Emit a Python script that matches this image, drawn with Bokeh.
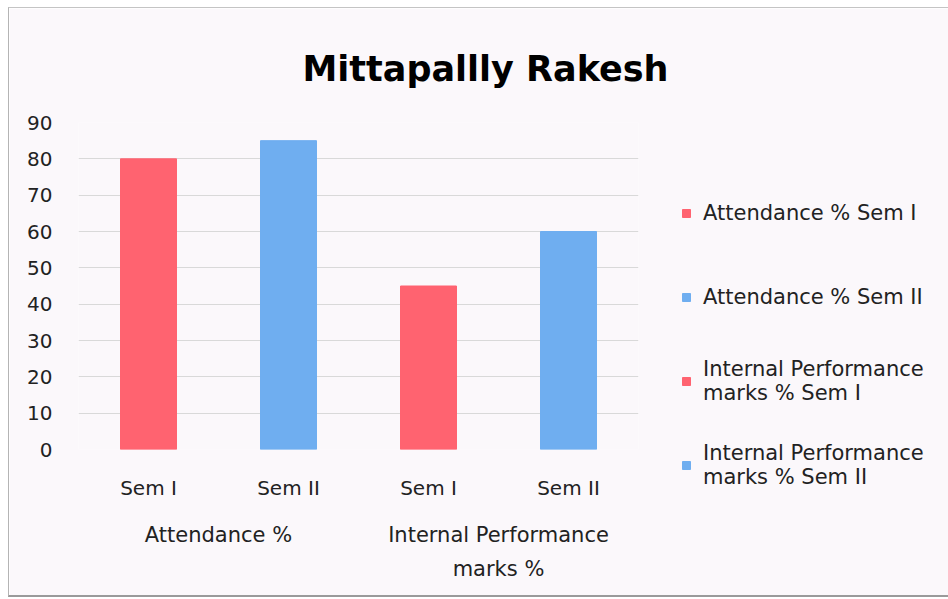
from bokeh.plotting import figure
from bokeh.models import (FactorRange, ColumnDataSource, Legend, LegendItem,
                          Range1d, FixedTicker, Title)
from bokeh.embed import file_html
from bokeh.resources import INLINE

# ---- data ----
title_text = "Mittapallly Rakesh"
groups = ["Attendance %", "Internal Performance\nmarks %"]
semesters = ["Sem I", "Sem II"]
series_labels = ["Attendance % Sem I", "Attendance % Sem II",
                 "Internal Performance\nmarks % Sem I", "Internal Performance\nmarks % Sem II"]
values = [80, 85, 45, 60]
colors = ["#ff6370", "#6faef0", "#ff6370", "#6faef0"]
y_ticks = [0, 10, 20, 30, 40, 50, 60, 70, 80, 90]

factors = [(g, s) for g in groups for s in semesters]

FONT = "DejaVu Sans"
BG = "#fbf8fb"
TXT = "#222222"

p = figure(frame_width=560, frame_height=327, output_backend="svg", toolbar_location=None,
           x_range=FactorRange(*factors, range_padding=0, group_padding=0, factor_padding=0),
           y_range=Range1d(0, 90),
           min_border_left=69, min_border_right=307, min_border_top=114, min_border_bottom=146)

p.background_fill_color = BG
p.border_fill_color = BG
p.outline_line_color = None

p.title = Title(text=title_text, align="left", text_font=FONT,
                text_font_size="35px", text_font_style="bold", text_color="#000000",
                standoff=68, offset=224)

renderers = []
for f, v, c in zip(factors, values, colors):
    src = ColumnDataSource(dict(x=[f], top=[v]))
    r = p.vbar(x="x", top="top", width=0.4, source=src, fill_color=c,
               line_color=c, line_width=1)
    renderers.append(r)

# axes
p.yaxis.ticker = FixedTicker(ticks=y_ticks)
p.yaxis.axis_line_color = None
p.yaxis.major_tick_line_color = None
p.yaxis.minor_tick_line_color = None
p.yaxis.major_label_text_font = FONT
p.yaxis.major_label_text_font_size = "20px"
p.yaxis.major_label_text_color = TXT
p.yaxis.major_label_standoff = 20

p.xaxis.axis_line_color = None
p.xaxis.major_tick_line_color = None
p.xaxis.minor_tick_line_color = None
p.xaxis.major_label_text_font = FONT
p.xaxis.major_label_text_font_size = "20px"
p.xaxis.major_label_text_color = TXT
p.xaxis.major_label_standoff = 20
p.xaxis.group_text_font = FONT
p.xaxis.group_text_font_size = "21px"
p.xaxis.group_text_font_style = "normal"
p.xaxis.group_text_color = TXT
p.xaxis.group_text_line_height = 1.45
p.xaxis.group_label_orientation = "horizontal"
p.xaxis.separator_line_color = None

p.xgrid.grid_line_color = None
p.ygrid.grid_line_color = "#d9d9d9"
p.ygrid.grid_line_width = 1

items = [LegendItem(label=lab, renderers=[r]) for lab, r in zip(series_labels, renderers)]
legend = Legend(items=items, location=(43, -45), label_text_font=FONT,
                label_text_font_size="21px", label_text_color=TXT,
                label_text_line_height=1.5,
                glyph_width=10, glyph_height=10, label_standoff=12,
                spacing=26, label_height=58, margin=0, padding=0,
                border_line_color=None, background_fill_alpha=0)
p.add_layout(legend, "right")

p.styles = {"border-left": "1px solid #b4b4b4", "border-top": "1px solid #c4c4c4",
            "border-bottom": "2px solid #9a9a9a", "margin-left": "8px", "margin-top": "7px"}

open("out.html", "w").write(file_html(p, INLINE))
